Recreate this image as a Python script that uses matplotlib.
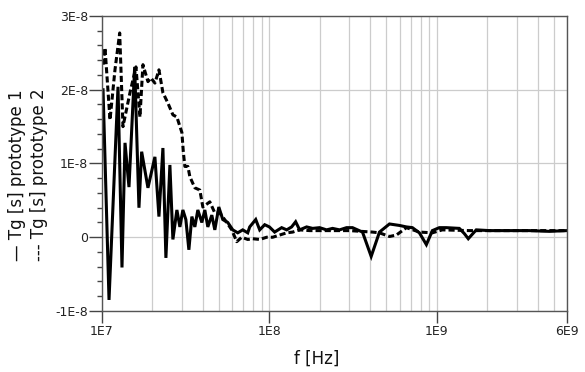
import matplotlib
matplotlib.use("Agg")
import matplotlib.pyplot as plt
from matplotlib.ticker import FixedLocator, NullFormatter
import numpy as np

plt.rcParams['font.family'] = ['DejaVu Sans']

# group delay, prototype 1 (solid)
f1 = [1.014e7, 1.101e7, 1.246e7, 1.316e7, 1.372e7, 1.449e7, 1.567e7, 1.662e7,
      1.725e7, 1.881e7, 2.070e7, 2.188e7, 2.311e7, 2.408e7, 2.544e7, 2.651e7,
      2.801e7, 2.919e7, 3.041e7, 3.169e7, 3.303e7, 3.442e7, 3.586e7, 3.737e7,
      3.948e7, 4.114e7, 4.287e7, 4.529e7, 4.720e7, 4.986e7, 5.267e7, 5.642e7,
      6.041e7, 6.471e7, 6.930e7, 7.423e7, 7.629e7, 8.287e7, 8.754e7, 9.376e7,
      1.000e8, 1.075e8, 1.184e8, 1.269e8, 1.358e8, 1.435e8, 1.516e8, 1.669e8,
      1.813e8, 1.995e8, 2.196e8, 2.385e8, 2.626e8, 2.891e8, 3.139e8, 3.362e8,
      3.601e8, 4.057e8, 4.547e8, 5.218e8, 5.984e8, 6.587e8, 7.155e8, 7.875e8,
      8.670e8, 9.414e8, 1.036e9, 1.141e9, 1.364e9, 1.461e9, 1.543e9, 1.722e9,
      2.059e9, 2.710e9, 3.566e9, 4.693e9, 6.0e9]
tg1 = [2.00, -0.85, 2.04, -0.41, 1.28, 0.68, 2.31, 0.40,
       1.16, 0.67, 1.09, 0.28, 1.21, -0.28, 0.98, -0.03,
       0.37, 0.14, 0.37, 0.24, -0.17, 0.28, 0.14, 0.37,
       0.20, 0.37, 0.14, 0.30, 0.10, 0.41, 0.24, 0.20,
       0.10, 0.06, 0.10, 0.06, 0.14, 0.24, 0.10, 0.17,
       0.14, 0.07, 0.13, 0.10, 0.14, 0.21, 0.10, 0.14,
       0.12, 0.13, 0.10, 0.12, 0.10, 0.13, 0.13, 0.10,
       0.07, -0.26, 0.07, 0.18, 0.16, 0.14, 0.13, 0.06,
       -0.10, 0.09, 0.13, 0.13, 0.12, 0.05, -0.02, 0.10,
       0.09, 0.09, 0.09, 0.08, 0.09]

# group delay, prototype 2 (dashed)
f2 = [1.014e7, 1.042e7, 1.116e7, 1.195e7, 1.275e7, 1.334e7, 1.469e7, 1.595e7,
      1.685e7, 1.756e7, 1.881e7, 1.960e7, 2.070e7, 2.188e7, 2.311e7, 2.475e7,
      2.651e7, 2.801e7, 3.000e7, 3.062e7, 3.126e7, 3.258e7, 3.349e7, 3.586e7,
      3.841e7, 4.003e7, 4.406e7, 4.720e7, 5.054e7, 5.565e7, 5.959e7, 6.383e7,
      6.835e7, 7.423e7, 7.951e7, 8.754e7, 9.636e7, 1.046e8, 1.152e8, 1.269e8,
      1.377e8, 1.516e8, 1.739e8, 2.289e8, 3.012e8, 4.130e8, 4.547e8, 5.218e8,
      5.742e8, 6.587e8, 7.875e8, 9.414e8, 1.080e9, 1.564e9, 2.362e9, 3.566e9,
      6.0e9]
tg2 = [2.34, 2.57, 1.59, 2.27, 2.77, 1.50, 1.96, 2.31,
       1.63, 2.34, 2.11, 2.16, 2.09, 2.27, 1.96, 1.82,
       1.66, 1.63, 1.42, 1.15, 0.96, 0.96, 0.82, 0.67,
       0.64, 0.41, 0.48, 0.33, 0.33, 0.20, 0.10, -0.06,
       0.00, -0.03, -0.02, -0.03, 0.00, 0.00, 0.03, 0.06,
       0.07, 0.10, 0.09, 0.09, 0.09, 0.07, 0.06, 0.01,
       0.03, 0.13, 0.07, 0.06, 0.10, 0.09, 0.09, 0.09,
       0.09]

xticks = [1e7, 1e8, 1e9, 6e9]
xticklabels = ['1E7', '1E8', '1E9', '6E9']
yticks = [-1e-8, 0, 1e-8, 2e-8, 3e-8]
yticklabels = ['-1E-8', '0', '1E-8', '2E-8', '3E-8']

fig = plt.figure(figsize=(5.85, 3.72), dpi=100)
ax = fig.add_axes([0.1744, 0.164, 0.7948, 0.793])

ax.plot(f1, np.array(tg1) * 1e-8, color='black', lw=2.2, solid_joinstyle='miter')
ax.plot(f2, np.array(tg2) * 1e-8, color='black', lw=2.2, dashes=(2, 1))

ax.set_xscale('log')
ax.set_xlim(1e7, 6e9)
ax.set_ylim(-1e-8, 3e-8)

ax.set_xticks(xticks)
ax.set_xticklabels(xticklabels)
minor_x = [m * 10 ** d for d in range(7, 10) for m in range(2, 10) if m * 10 ** d < 6e9]
ax.xaxis.set_minor_locator(FixedLocator(minor_x))
ax.xaxis.set_minor_formatter(NullFormatter())
ax.set_yticks(yticks)
ax.set_yticklabels(yticklabels)
ax.yaxis.set_minor_locator(FixedLocator(np.arange(-1e-8, 3.01e-8, 0.2e-8)))

ax.grid(True, which='both', axis='x', color='#cccccc', lw=0.9)
ax.grid(True, which='major', axis='y', color='#cccccc', lw=0.9)
ax.set_axisbelow(True)

ax.tick_params(axis='x', which='major', direction='out', length=8.5, width=1,
               color='#444444', labelsize=9, pad=1.5, labelcolor='#222222')
ax.tick_params(axis='x', which='minor', length=0)
ax.tick_params(axis='y', which='major', direction='out', length=9.5, width=1,
               color='#444444', labelsize=9, pad=0.5, labelcolor='#222222')
ax.tick_params(axis='y', which='minor', direction='out', length=3.6, width=1,
               color='#444444')

for s in ax.spines.values():
    s.set_color('#555555')
    s.set_linewidth(1)

# legend written as the y-axis caption
fig.text(17.5 / 585, 0.53, '\u2014 Tg [s] prototype 1', rotation=90,
         ha='center', va='center', fontsize=12, color='#111111')
fig.text(39.5 / 585, 0.53, '--- Tg [s] prototype 2', rotation=90,
         ha='center', va='center', fontsize=12, color='#111111')

fig.text(317 / 585, 0.035, 'f [Hz]', ha='center', va='center',
         fontsize=12, color='#111111')

fig.savefig('out.png', dpi=100)
